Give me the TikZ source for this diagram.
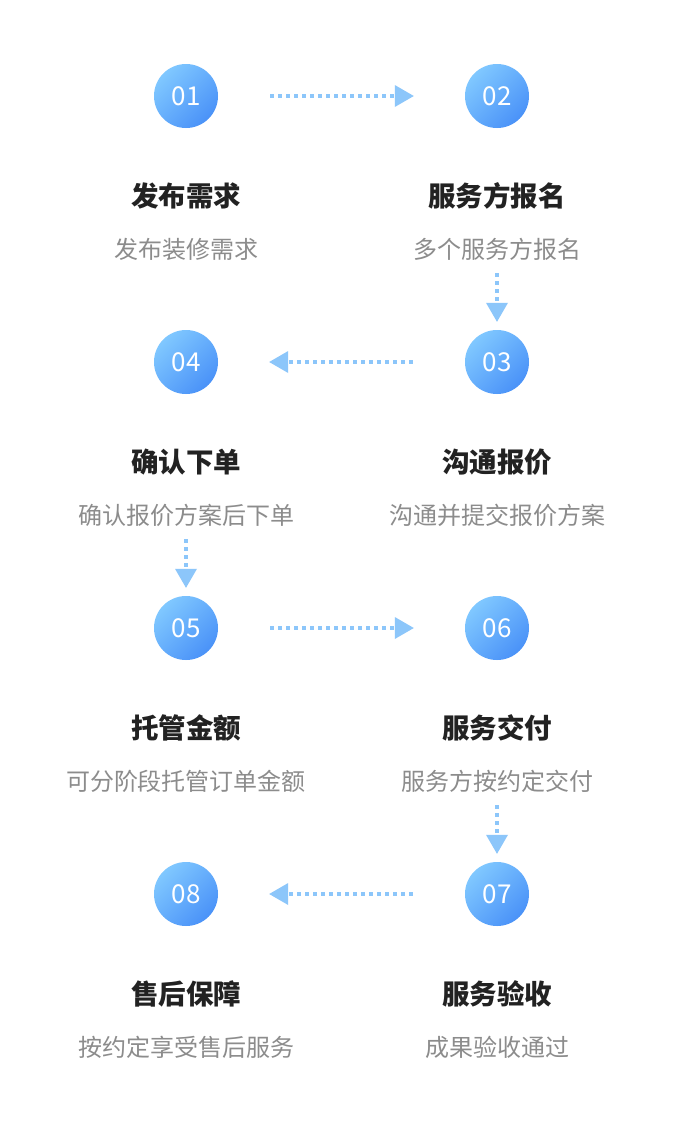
\documentclass[tikz,border=0pt]{standalone}
\usepackage{fontspec}
\setmainfont{Noto Sans CJK SC}
\usepackage{tikz}
\usetikzlibrary{arrows.meta, positioning}
\definecolor{dotlight}{HTML}{80C8FF}
\definecolor{dotdark}{HTML}{4A92F8}
\definecolor{flowblue}{HTML}{8CC6FA}
\definecolor{headtext}{HTML}{222222}
\definecolor{subtext}{HTML}{8C8C8C}

\begin{document}
\begin{tikzpicture}[
  x=1pt, y=-1pt,
  % circle with the step number
  numdot/.style={
    circle, minimum size=64pt, inner sep=0pt,
    top color=dotlight, bottom color=dotdark, shading angle=45,
    text=white, font=\fontsize{26}{30}\selectfont
  },
  headline/.style={text=headtext, font=\fontsize{27.5}{32}\selectfont\bfseries, inner sep=0pt},
  subline/.style={text=subtext, font=\fontsize{24}{28}\selectfont, inner sep=0pt},
  flow/.style={flowblue, line width=4pt, dash pattern=on 4pt off 4pt,
    -{Triangle[length=19pt, width=22pt, line width=0pt]}},
  sideflow/.style={flow, shorten <=52pt, shorten >=51pt},
  downflow/.style={flow, shorten <=13pt, shorten >=8pt}
]
\useasboundingbox (0,0) rectangle (686,1128);
\fill[white] (0,0) rectangle (686,1128);

% Step 01 / 02
\node[numdot] (c1) at (186,96) {01};
\node[headline] (t1) at (186,196) {发布需求};
\node[subline] (d1) at (186,249) {发布装修需求};
\node[numdot] (c2) at (497,96) {02};
\node[headline] (t2) at (497,196) {服务方报名};
\node[subline] (d2) at (497,249) {多个服务方报名};

% Step 04 / 03
\node[numdot] (c4) at (186,362) {04};
\node[headline] (t4) at (186,462) {确认下单};
\node[subline] (d4) at (186,515) {确认报价方案后下单};
\node[numdot] (c3) at (497,362) {03};
\node[headline] (t3) at (497,462) {沟通报价};
\node[subline] (d3) at (497,515) {沟通并提交报价方案};

% Step 05 / 06
\node[numdot] (c5) at (186,628) {05};
\node[headline] (t5) at (186,728) {托管金额};
\node[subline] (d5) at (186,781) {可分阶段托管订单金额};
\node[numdot] (c6) at (497,628) {06};
\node[headline] (t6) at (497,728) {服务交付};
\node[subline] (d6) at (497,781) {服务方按约定交付};

% Step 08 / 07
\node[numdot] (c8) at (186,894) {08};
\node[headline] (t8) at (186,994) {售后保障};
\node[subline] (d8) at (186,1047) {按约定享受售后服务};
\node[numdot] (c7) at (497,894) {07};
\node[headline] (t7) at (497,994) {服务验收};
\node[subline] (d7) at (497,1047) {成果验收通过};

% Flow arrows
\draw[sideflow] (c1) -- (c2);
\draw[downflow] (d2) -- (c3);
\draw[sideflow] (c3) -- (c4);
\draw[downflow] (d4) -- (c5);
\draw[sideflow] (c5) -- (c6);
\draw[downflow] (d6) -- (c7);
\draw[sideflow] (c7) -- (c8);

\end{tikzpicture}
\end{document}
